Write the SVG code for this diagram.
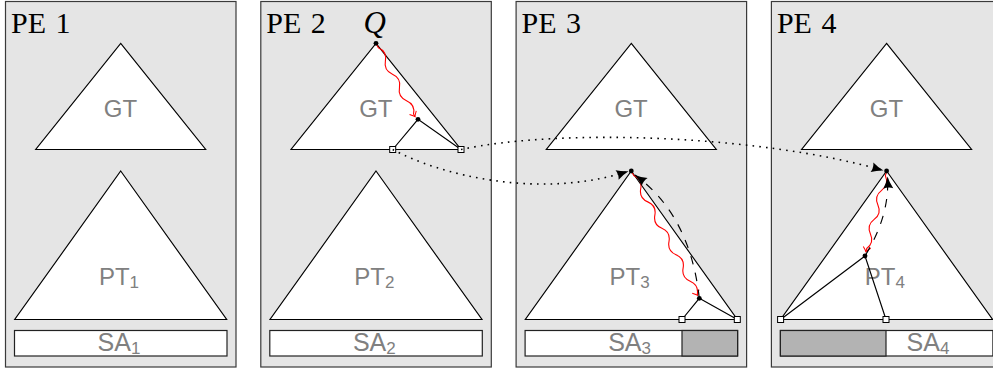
<svg xmlns="http://www.w3.org/2000/svg" width="993" height="369" viewBox="0 0 993 369">
<style>
.bg{fill:#fff}
.panel{fill:#e5e5e5;stroke:#3a3a3a;stroke-width:1.2}
.tri{fill:#fff;stroke:#000;stroke-width:1.15;stroke-linejoin:miter}
.sa{fill:#fff;stroke:#222;stroke-width:1.2}
.fill{fill:#b3b3b3;stroke:#222;stroke-width:1.2}
.lbl{font-family:"Liberation Serif",serif;font-size:30px;word-spacing:2px;fill:#000}
.q{font-family:"Liberation Serif",serif;font-size:31px;font-style:italic;fill:#000}
.t{font-family:"Liberation Sans",Arial,sans-serif;font-size:24px;fill:#808080;text-anchor:middle}
.sa-t{font-size:25px}
.sub{font-size:17px}
.edge{stroke:#000;stroke-width:1.15;fill:none}
.dot{fill:#000}
.sq{fill:#fff;stroke:#000;stroke-width:1}
.dotted{stroke:#000;stroke-width:1.6;stroke-dasharray:1.6 5.2;fill:none}
.dashed{stroke:#000;stroke-width:1.15;stroke-dasharray:8.6 8.6;fill:none}
.snake{stroke:#f00;stroke-width:1.1;fill:none}
</style>
<defs>
<marker id="latex" markerUnits="userSpaceOnUse" markerWidth="15" markerHeight="12" viewBox="-13 -6 15 12" refX="0" refY="0" orient="auto">
<path d="M0,0 Q-6,-1.5 -12,-5 Q-10,0 -12,5 Q-6,1.5 0,0 Z" fill="#000"/>
</marker>
<marker id="to" markerUnits="userSpaceOnUse" markerWidth="10" markerHeight="10" viewBox="-6 -5 8 10" refX="0" refY="0" orient="auto">
<path d="M-4.5,-3.8 Q-1.2,-0.6 0,0 Q-1.2,0.6 -4.5,3.8" fill="none" stroke="#f00" stroke-width="1"/>
</marker>
</defs>
<rect class="bg" x="0" y="0" width="993" height="369"/>

<g id="pe1">
<rect class="panel" x="5.5" y="1.5" width="230.5" height="365.5"/>
<text class="lbl" x="11" y="33">PE 1</text>
<path class="tri" d="M120.7,43.3 L205.7,149.5 L35.7,149.5 Z"/>
<text class="t" x="120.5" y="117">GT</text>
<path class="tri" d="M120.7,171 L226.7,319.5 L14.7,319.5 Z"/>
<text class="t" x="119" y="285">PT<tspan class="sub" dy="3">1</tspan></text>
<rect class="sa" x="14.5" y="330.5" width="212.5" height="25.5"/>
<text class="t sa-t" x="119" y="351">SA<tspan class="sub" dy="3">1</tspan></text>
</g>

<g id="pe2">
<rect class="panel" x="260.8" y="1.5" width="230.5" height="365.5"/>
<text class="lbl" x="266.3" y="33">PE 2</text>
<text class="q" x="363.5" y="33">Q</text>
<path class="tri" d="M376,43.3 L461,149.5 L291,149.5 Z"/>
<text class="t" x="375.8" y="117">GT</text>
<path class="tri" d="M376,171 L482,319.5 L270,319.5 Z"/>
<text class="t" x="374.3" y="285">PT<tspan class="sub" dy="3">2</tspan></text>
<rect class="sa" x="269.8" y="330.5" width="212.5" height="25.5"/>
<text class="t sa-t" x="374.3" y="351">SA<tspan class="sub" dy="3">2</tspan></text>
<path class="edge" d="M392.7,149.5 L418,119.3 L461,149.5"/>
<rect class="sq" x="389.7" y="146.5" width="6" height="6"/>
<rect class="sq" x="458" y="146.5" width="6" height="6"/>
</g>

<g id="pe3">
<rect class="panel" x="516.1" y="1.5" width="230.5" height="365.5"/>
<text class="lbl" x="521.6" y="33">PE 3</text>
<path class="tri" d="M631.3,43.3 L716.3,149.5 L546.3,149.5 Z"/>
<text class="t" x="631.1" y="117">GT</text>
<path class="tri" d="M631.3,171 L737.3,319.5 L525.3,319.5 Z"/>
<text class="t" x="629.6" y="285">PT<tspan class="sub" dy="3">3</tspan></text>
<rect class="sa" x="525.1" y="330.5" width="212.5" height="25.5"/>
<rect class="fill" x="682" y="330.5" width="55.6" height="25.5"/>
<text class="t sa-t" x="629.6" y="351">SA<tspan class="sub" dy="3">3</tspan></text>
<path class="edge" d="M682,319.5 L699.3,298.3 L737.3,319.5"/>
<rect class="sq" x="679" y="316.5" width="6" height="6"/>
<rect class="sq" x="734.3" y="316.5" width="6" height="6"/>
</g>

<g id="pe4">
<rect class="panel" x="771.4" y="1.5" width="230.5" height="365.5"/>
<text class="lbl" x="776.9" y="33">PE 4</text>
<path class="tri" d="M886.6,43.3 L971.6,149.5 L801.6,149.5 Z"/>
<text class="t" x="886.4" y="117">GT</text>
<path class="tri" d="M886.6,171 L992.6,319.5 L780.6,319.5 Z"/>
<text class="t" x="884.9" y="285">PT<tspan class="sub" dy="3">4</tspan></text>
<rect class="sa" x="780.4" y="330.5" width="212.5" height="25.5"/>
<rect class="fill" x="780.4" y="330.5" width="105.6" height="25.5"/>
<text class="t sa-t" x="928" y="351">SA<tspan class="sub" dy="3">4</tspan></text>
<path class="edge" d="M780.6,319.5 L865,256 L886,319.5"/>
<rect class="sq" x="777.6" y="316.5" width="6" height="6"/>
<rect class="sq" x="883" y="316.5" width="6" height="6"/>
</g>

<g id="connectors">
<path class="dotted" marker-end="url(#latex)" d="M461,149.5 C560,128 760,135 883.5,170.5"/>
<path class="dotted" marker-end="url(#latex)" d="M392.7,149.5 C440,175 540,200 628.5,171.2"/>
<path class="snake" marker-end="url(#to)" transform="translate(376,43.3) rotate(62)" d="M0,0 L5,0 Q12.5,-6 20,0 T35,0 T50,0 T65,0 T80,0 L83.1,0"/>
<path class="snake" marker-end="url(#to)" transform="translate(631.3,171) rotate(61.9)" d="M0,0 L5,0 Q12.5,-6 20,0 T35,0 T50,0 T65,0 T80,0 T95,0 T110,0 T125,0 T140,0 L141,0"/>
<path class="snake" marker-end="url(#to)" transform="translate(886.6,171) rotate(104.4)" d="M0,0 L5,0 Q12.5,-6 20,0 T35,0 T50,0 T65,0 T80,0 L83.3,0"/>
<path class="dashed" marker-end="url(#latex)" d="M699.3,298.3 Q690,215 635,175"/>
<path class="dashed" marker-end="url(#latex)" d="M865.5,255 Q890,215 887.5,176.5"/>
</g>

<g id="points">
<circle id="q-root" class="dot" cx="376" cy="43.3" r="2.4"/>
<circle id="pe2-leaf" class="dot" cx="418" cy="119.3" r="2.4"/>
<circle id="pe3-root" class="dot" cx="631.3" cy="171" r="2.4"/>
<circle id="pe3-leaf" class="dot" cx="699.3" cy="298.3" r="2.4"/>
<circle id="pe4-root" class="dot" cx="886.6" cy="171" r="2.4"/>
<circle id="pe4-leaf" class="dot" cx="865" cy="256" r="2.4"/>
</g>
</svg>
